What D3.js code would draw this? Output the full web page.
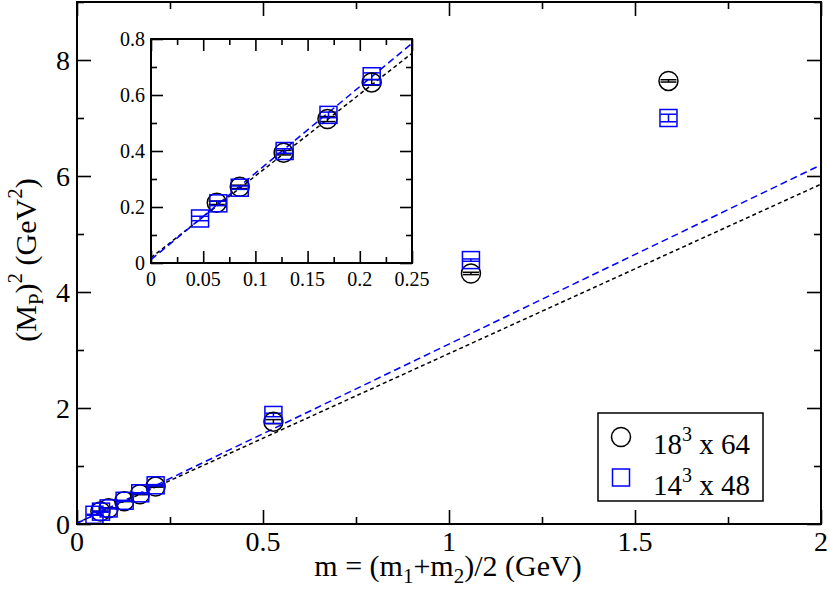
<!DOCTYPE html>
<html>
<head>
<meta charset="utf-8">
<script src="https://cdn.jsdelivr.net/npm/d3@7"></script>
<style>
  body { margin: 0; background: #fff; }
  svg { display: block; }
</style>
</head>
<body>
<script>
// 18^3 x 64 lattice (circles)
var mass18 = [0.063, 0.085, 0.127, 0.169, 0.2114, 0.528, 1.059, 1.59];
var mp2_18 = [0.215, 0.272, 0.394, 0.514, 0.645, 1.765, 4.32, 7.64];
var err18  = [0.006, 0.006, 0.008, 0.009, 0.01, 0.035, 0.02, 0.02];

// 14^3 x 48 lattice (squares)
var mass14 = [0.047, 0.0645, 0.085, 0.128, 0.170, 0.2114, 0.528, 1.059, 1.59];
var mp2_14 = [0.159, 0.213, 0.269, 0.400, 0.529, 0.667, 1.88, 4.55, 7.00];
var err14  = [0.008, 0.008, 0.006, 0.008, 0.01, 0.012, 0.03, 0.02, 0.065];

// linear fits: [intercept, slope]
var fit18 = [0.019, 2.92];
var fit14 = [0.012, 3.09];

var mainXTicks = [0, 0.5, 1, 1.5, 2];
var mainXLabels = ["0", "0.5", "1", "1.5", "2"];
var mainXMinor = [0.25, 0.75, 1.25, 1.75];
var mainYTicks = [0, 2, 4, 6, 8];
var mainYLabels = ["0", "2", "4", "6", "8"];
var mainYMinor = [1, 3, 5, 7, 9];

var insXTicks = [0, 0.05, 0.1, 0.15, 0.2, 0.25];
var insXLabels = ["0", "0.05", "0.1", "0.15", "0.2", "0.25"];
var insXMinor = [0.025, 0.075, 0.125, 0.175, 0.225];
var insYTicks = [0, 0.2, 0.4, 0.6, 0.8];
var insYLabels = ["0", "0.2", "0.4", "0.6", "0.8"];
var insYMinor = [0.1, 0.3, 0.5, 0.7];

var FONT = "Liberation Serif";
var w = 830, h = 596;
var svg = d3.select("body").append("svg").attr("width", w).attr("height", h)
  .attr("font-family", FONT);

function series(xs, ys, es) {
  return xs.map(function(x, i) { return { x: x, y: ys[i], e: es[i] }; });
}
var set18 = series(mass18, mp2_18, err18);
var set14 = series(mass14, mp2_14, err14);

function drawPanel(opt) {
  var x = d3.scaleLinear().domain(opt.xd).range([opt.x0, opt.x1]);
  var y = d3.scaleLinear().domain(opt.yd).range([opt.y1, opt.y0]);
  var g = svg.append("g");

  g.append("rect")
    .attr("x", opt.x0).attr("y", opt.y0)
    .attr("width", opt.x1 - opt.x0).attr("height", opt.y1 - opt.y0)
    .attr("fill", "#fff");

  var clipId = "clip" + opt.name;
  svg.append("clipPath").attr("id", clipId).append("rect")
    .attr("x", opt.x0).attr("y", opt.y0)
    .attr("width", opt.x1 - opt.x0).attr("height", opt.y1 - opt.y0);

  //ticks, all pointing inwards
  function ticks(axisFn, scale, vals, len, tr) {
    var a = g.append("g").attr("transform", tr)
      .call(axisFn(scale).tickValues(vals).tickSize(-len).tickFormat(""));
    a.select(".domain").remove();
    a.selectAll("line").attr("stroke", "#000").attr("stroke-width", 1.6);
  }
  var B = "translate(0," + opt.y1 + ")", T = "translate(0," + opt.y0 + ")";
  var L = "translate(" + opt.x0 + ",0)", R = "translate(" + opt.x1 + ",0)";
  [[d3.axisBottom, B], [d3.axisTop, T]].forEach(function(p) {
    ticks(p[0], x, opt.xt, opt.major, p[1]);
    ticks(p[0], x, opt.xm, opt.minor, p[1]);
  });
  [[d3.axisLeft, L], [d3.axisRight, R]].forEach(function(p) {
    ticks(p[0], y, opt.yt, opt.major, p[1]);
    ticks(p[0], y, opt.ym, opt.minor, p[1]);
  });

  //tick labels
  g.selectAll(".xl").data(opt.xt).enter().append("text")
    .attr("x", function(d) { return x(d); })
    .attr("y", opt.y1 + opt.xlOff)
    .attr("text-anchor", "middle")
    .attr("font-family", FONT)
    .style("font-size", opt.fs + "px")
    .text(function(d, i) { return opt.xl[i]; });
  g.selectAll(".yl").data(opt.yt).enter().append("text")
    .attr("x", opt.x0 - opt.ylOff)
    .attr("y", function(d) { return y(d); })
    .attr("dy", "0.34em")
    .attr("text-anchor", "end")
    .attr("font-family", FONT)
    .style("font-size", opt.fs + "px")
    .text(function(d, i) { return opt.yl[i]; });

  var plot = g.append("g").attr("clip-path", "url(#" + clipId + ")");

  //fit lines
  [[fit18, "#000", "4,3"], [fit14, "#0000ff", "7,4"]].forEach(function(f) {
    plot.append("line")
      .attr("x1", x(0)).attr("y1", y(f[0][0]))
      .attr("x2", x(opt.xd[1])).attr("y2", y(f[0][0] + f[0][1] * opt.xd[1]))
      .attr("stroke", f[1]).attr("stroke-width", 1.5)
      .attr("stroke-dasharray", f[2]);
  });

  //error bars
  function errbars(data, color, cap) {
    var eb = plot.append("g").attr("stroke", color).attr("stroke-width", 1.5);
    data.forEach(function(d) {
      var cx = x(d.x), lo = y(d.y - d.e), hi = y(d.y + d.e);
      eb.append("line").attr("x1", cx).attr("x2", cx).attr("y1", lo).attr("y2", hi);
      eb.append("line").attr("x1", cx - cap).attr("x2", cx + cap).attr("y1", lo).attr("y2", lo);
      eb.append("line").attr("x1", cx - cap).attr("x2", cx + cap).attr("y1", hi).attr("y2", hi);
    });
  }
  errbars(set18, "#000", 8);
  errbars(set14, "#0000ff", 8);

  plot.selectAll(".c").data(set18).enter().append("circle")
    .attr("cx", function(d) { return x(d.x); })
    .attr("cy", function(d) { return y(d.y); })
    .attr("r", 9.5)
    .attr("fill", "none").attr("stroke", "#000").attr("stroke-width", 1.5);
  plot.selectAll(".s").data(set14).enter().append("rect")
    .attr("x", function(d) { return x(d.x) - 8.5; })
    .attr("y", function(d) { return y(d.y) - 8.5; })
    .attr("width", 17).attr("height", 17)
    .attr("fill", "none").attr("stroke", "#0000ff").attr("stroke-width", 1.5);

  g.append("rect")
    .attr("x", opt.x0).attr("y", opt.y0)
    .attr("width", opt.x1 - opt.x0).attr("height", opt.y1 - opt.y0)
    .attr("fill", "none").attr("stroke", "#000").attr("stroke-width", 2);
}

drawPanel({
  name: "main", x0: 77, x1: 821, y0: 2, y1: 524,
  xd: [0, 2], yd: [0, 9],
  xt: mainXTicks, xl: mainXLabels, xm: mainXMinor,
  yt: mainYTicks, yl: mainYLabels, ym: mainYMinor,
  major: 14, minor: 7, fs: 28, xlOff: 27, ylOff: 7
});

drawPanel({
  name: "inset", x0: 151, x1: 412, y0: 39, y1: 263,
  xd: [0, 0.25], yd: [0, 0.8],
  xt: insXTicks, xl: insXLabels, xm: insXMinor,
  yt: insYTicks, yl: insYLabels, ym: insYMinor,
  major: 12, minor: 6, fs: 20, xlOff: 23, ylOff: 6
});

// axis titles
var xt = svg.append("text")
  .attr("x", 448).attr("y", 576)
  .attr("text-anchor", "middle")
  .attr("font-family", FONT)
  .style("font-size", "30px");
xt.append("tspan").text("m = (m");
xt.append("tspan").attr("dy", 7).style("font-size", "21px").text("1");
xt.append("tspan").attr("dy", -7).text("+m");
xt.append("tspan").attr("dy", 7).style("font-size", "21px").text("2");
xt.append("tspan").attr("dy", -7).text(")/2 (GeV)");

var yt = svg.append("text")
  .attr("transform", "translate(36,260) rotate(-90)")
  .attr("text-anchor", "middle")
  .attr("font-family", FONT)
  .style("font-size", "30px");
yt.append("tspan").text("(M");
yt.append("tspan").attr("dy", 7).style("font-size", "21px").text("P");
yt.append("tspan").attr("dy", -7).text(")");
yt.append("tspan").attr("dy", -14).style("font-size", "21px").text("2");
yt.append("tspan").attr("dy", 14).text(" (GeV");
yt.append("tspan").attr("dy", -14).style("font-size", "21px").text("2");
yt.append("tspan").attr("dy", 14).text(")");

// legend
var legNames = [["18", "3", " x 64"], ["14", "3", " x 48"]];
svg.append("rect")
  .attr("x", 598).attr("y", 413).attr("width", 165).attr("height", 88)
  .attr("fill", "#fff").attr("stroke", "#000").attr("stroke-width", 1.5);
svg.append("circle").attr("cx", 621).attr("cy", 437).attr("r", 9.5)
  .attr("fill", "none").attr("stroke", "#000").attr("stroke-width", 1.5);
svg.append("rect").attr("x", 612.5).attr("y", 469).attr("width", 17).attr("height", 17)
  .attr("fill", "none").attr("stroke", "#0000ff").attr("stroke-width", 1.5);
legNames.forEach(function(n, i) {
  var t = svg.append("text").attr("x", 653).attr("y", 454 + i * 41)
    .attr("font-family", FONT).style("font-size", "29px");
  t.append("tspan").text(n[0]);
  t.append("tspan").attr("dy", -13).style("font-size", "20px").text(n[1]);
  t.append("tspan").attr("dy", 13).text(n[2]);
});
</script>
</body>
</html>
